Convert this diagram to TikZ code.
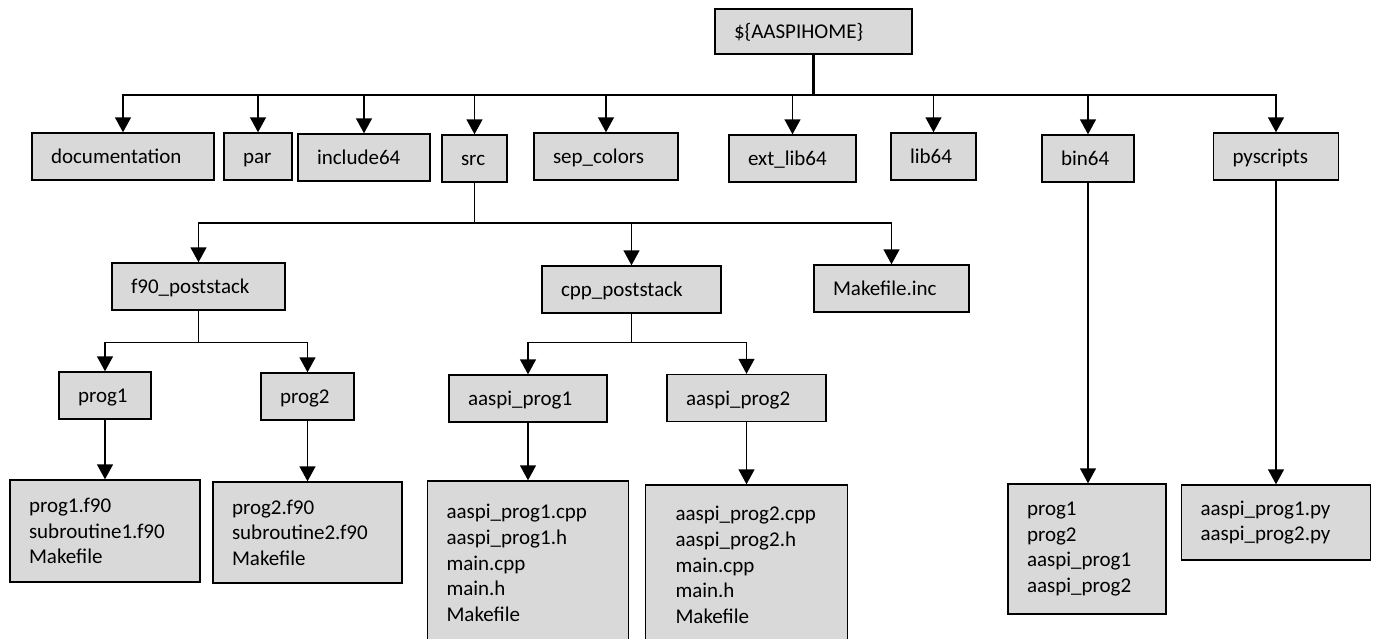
\documentclass[tikz,border=0pt]{standalone}
\usepackage{fontspec}
\setmainfont{Carlito}
\usetikzlibrary{arrows.meta}
\definecolor{boxgray}{RGB}{217,217,217}

\begin{document}
\begin{tikzpicture}[x=1pt, y=-1pt, >={Triangle[width=16pt,length=15pt]}, line width=1.4pt, font=\fontsize{21}{25.6}\selectfont]
\tikzset{
  dirbox/.style={draw, fill=boxgray, align=left, inner xsep=19pt, inner ysep=0pt, minimum height=47pt, text height=19pt, text depth=5pt, text width=#1},
  filebox/.style 2 args={draw, fill=boxgray, align=left, inner xsep=19pt, inner ysep=0pt, text width=#1, minimum height=#2},
  heavyline/.style={line width=2.6pt}
}
\useasboundingbox (0,0) rectangle (1375,638);

\node[dirbox=159pt, minimum height=45pt] (home) at (813.5,31.5) {\$\{AASPIHOME\}};

\node[dirbox=144pt] (doc) at (123,156.5) {documentation};
\node[dirbox=30pt] (par) at (258,156.5) {par};
\node[dirbox=94pt] (inc) at (364,157.5) {include64};
\node[dirbox=27pt] (src) at (474.5,158.5) {src};
\node[dirbox=106pt] (sep) at (606,156.5) {sep\_colors};
\node[dirbox=89pt] (ext) at (792.5,158.5) {ext\_lib64};
\node[dirbox=47pt] (lib) at (933.5,156.5) {lib64};
\node[dirbox=54pt] (bin) at (1088,158.5) {bin64};
\node[dirbox=87pt] (pys) at (1276,156.5) {pyscripts};

\node[dirbox=135pt] (f90) at (198.5,286.5) {f90\_poststack};
\node[dirbox=141pt] (cpp) at (631.5,289.5) {cpp\_poststack};
\node[dirbox=117pt] (mkinc) at (891.5,288.5) {Makefile.inc};

\node[dirbox=54pt] (p1) at (105,395.5) {prog1};
\node[dirbox=55pt] (p2) at (307.5,396.5) {prog2};
\node[dirbox=120pt] (ap1) at (528,398.5) {aaspi\_prog1};
\node[dirbox=121pt] (ap2) at (746.5,398) {aaspi\_prog2};

\node[filebox={152pt}{102pt}] (p1f) at (105,531) {prog1.f90\\subroutine1.f90\\Makefile};
\node[filebox={151pt}{101pt}] (p2f) at (307.5,532.5) {prog2.f90\\subroutine2.f90\\Makefile};
\node[filebox={163pt}{164pt}] (ap1f) at (528,563) {aaspi\_prog1.cpp\\aaspi\_prog1.h\\main.cpp\\main.h\\Makefile\\[14pt]};
\node[filebox={142pt}{160pt}, inner xsep=30pt] (ap2f) at (746.5,565) {aaspi\_prog2.cpp\\aaspi\_prog2.h\\main.cpp\\main.h\\Makefile\\[14pt]};
\node[filebox={120pt}{130pt}] (binf) at (1087,549) {prog1\\prog2\\aaspi\_prog1\\aaspi\_prog2};
\node[filebox={151pt}{75pt}] (pysf) at (1276,522.5) {aaspi\_prog1.py\\aaspi\_prog2.py};

\coordinate (bus1) at (0,95);
\coordinate (bus2) at (0,223);
\coordinate (bus3) at (0,342.5);

\draw[heavyline] (home) -- (home |- bus1);
\draw[heavyline] (par |- bus1) -- (home |- bus1);
\foreach \dir in {doc,par,inc,src,sep,ext,lib,bin,pys}
  \draw[->] (home) -- (home |- bus1) -| (\dir);

\foreach \dir in {f90,cpp,mkinc}
  \draw[->] (src) -- (src |- bus2) -| (\dir);

\foreach \dir in {p1,p2}
  \draw[->] (f90) -- (f90 |- bus3) -| (\dir);
\foreach \dir in {ap1,ap2}
  \draw[->] (cpp) -- (cpp |- bus3) -| (\dir);

\draw[->] (p1) -- (p1f);
\draw[->] (p2) -- (p2f);
\draw[->] (ap1) -- (ap1f);
\draw[->] (ap2) -- (ap2f);
\draw[->] (bin) -- (bin |- binf.north);
\draw[->] (pys) -- (pys |- pysf.north);
\end{tikzpicture}
\end{document}
